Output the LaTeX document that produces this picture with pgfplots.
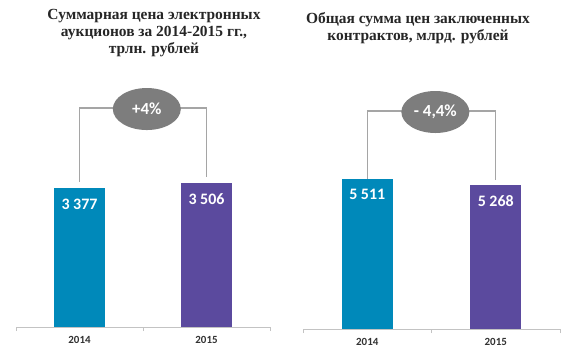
\documentclass[border=0pt]{standalone}
\usepackage{pgfplots}
\pgfplotsset{compat=1.18}
\usepackage{fontspec}
\setmainfont{Liberation Serif}
\newfontfamily\carlito{Carlito}
\usetikzlibrary{shapes.geometric}
\definecolor{cblue}{RGB}{0,137,186}
\definecolor{cpurp}{RGB}{91,74,158}
\definecolor{bubble}{RGB}{125,125,125}
\definecolor{brk}{RGB}{165,165,165}
\definecolor{axl}{RGB}{195,195,195}
\definecolor{lab}{RGB}{50,50,50}
\tikzset{bubblenode/.style={ellipse, fill=bubble, minimum width=68bp, minimum height=42bp,
    inner sep=0pt, text=white, font=\carlito\bfseries\fontsize{17}{20}\selectfont}}
\pgfplotsset{
  panel/.style={
    scale only axis, clip=false,
    ymin=0, xmin=-0.5, xmax=1.5,
    axis x line*=bottom, axis y line=none,
    x axis line style={draw=axl, line width=0.8bp, -},
    xtick={-0.5,0.5,1.5}, xticklabels={},
    tick align=outside, major tick length=4bp,
    tick style={draw=axl, line width=0.8bp},
    extra x ticks={0,1}, extra x tick labels={2014,2015},
    extra x tick style={major tick length=0pt,
      tick label style={font=\carlito\bfseries\fontsize{11}{13}\selectfont, text=lab, yshift=-6bp}},
  },
  valbar/.style={ybar, bar width=0.4, bar shift=0pt, draw=none,
    point meta=explicit symbolic, nodes near coords,
    every node near coord/.append style={font=\carlito\bfseries\fontsize{16}{19}\selectfont,
      text=white, anchor=center, yshift=-16bp}},
}
\begin{document}
\begin{tikzpicture}
\path[use as bounding box] (0,0) rectangle (574bp,353bp);
\node[align=center, font=\bfseries\fontsize{15.5}{17.5}\selectfont, text=black!85] at (154bp,320bp)
  {Суммарная цена электронных\\аукционов за 2014-2015 гг.,\\трлн. рублей};
\node[align=center, font=\bfseries\fontsize{15.5}{17.5}\selectfont, text=black!85] at (418bp,325bp)
  {Общая сумма цен заключенных\\контрактов, млрд. рублей};
\begin{axis}[panel, at={(16bp,26bp)}, anchor=south west, width=254bp, height=219bp, ymax=5322]
  \addplot[brk, line width=1.2bp, mark=none] coordinates {(0,3527) (0,5322) (1,5322) (1,3656)};
  \addplot[valbar, fill=cblue] coordinates {(0,3377) [3 377]};
  \addplot[valbar, fill=cpurp] coordinates {(1,3506) [3 506]};
  \node[bubblenode] at (axis cs:0.53,5297) {+4\%};
\end{axis}
\begin{axis}[panel, at={(303bp,24bp)}, anchor=south west, width=257bp, height=218bp, ymax=7990]
  \addplot[brk, line width=1.2bp, mark=none] coordinates {(0,5511) (0,7990) (1,7990) (1,5470)};
  \addplot[valbar, fill=cblue] coordinates {(0,5511) [5 511]};
  \addplot[valbar, fill=cpurp] coordinates {(1,5268) [5 268]};
  \node[bubblenode] at (axis cs:0.53,7953) {- 4,4\%};
\end{axis}
\end{tikzpicture}
\end{document}
